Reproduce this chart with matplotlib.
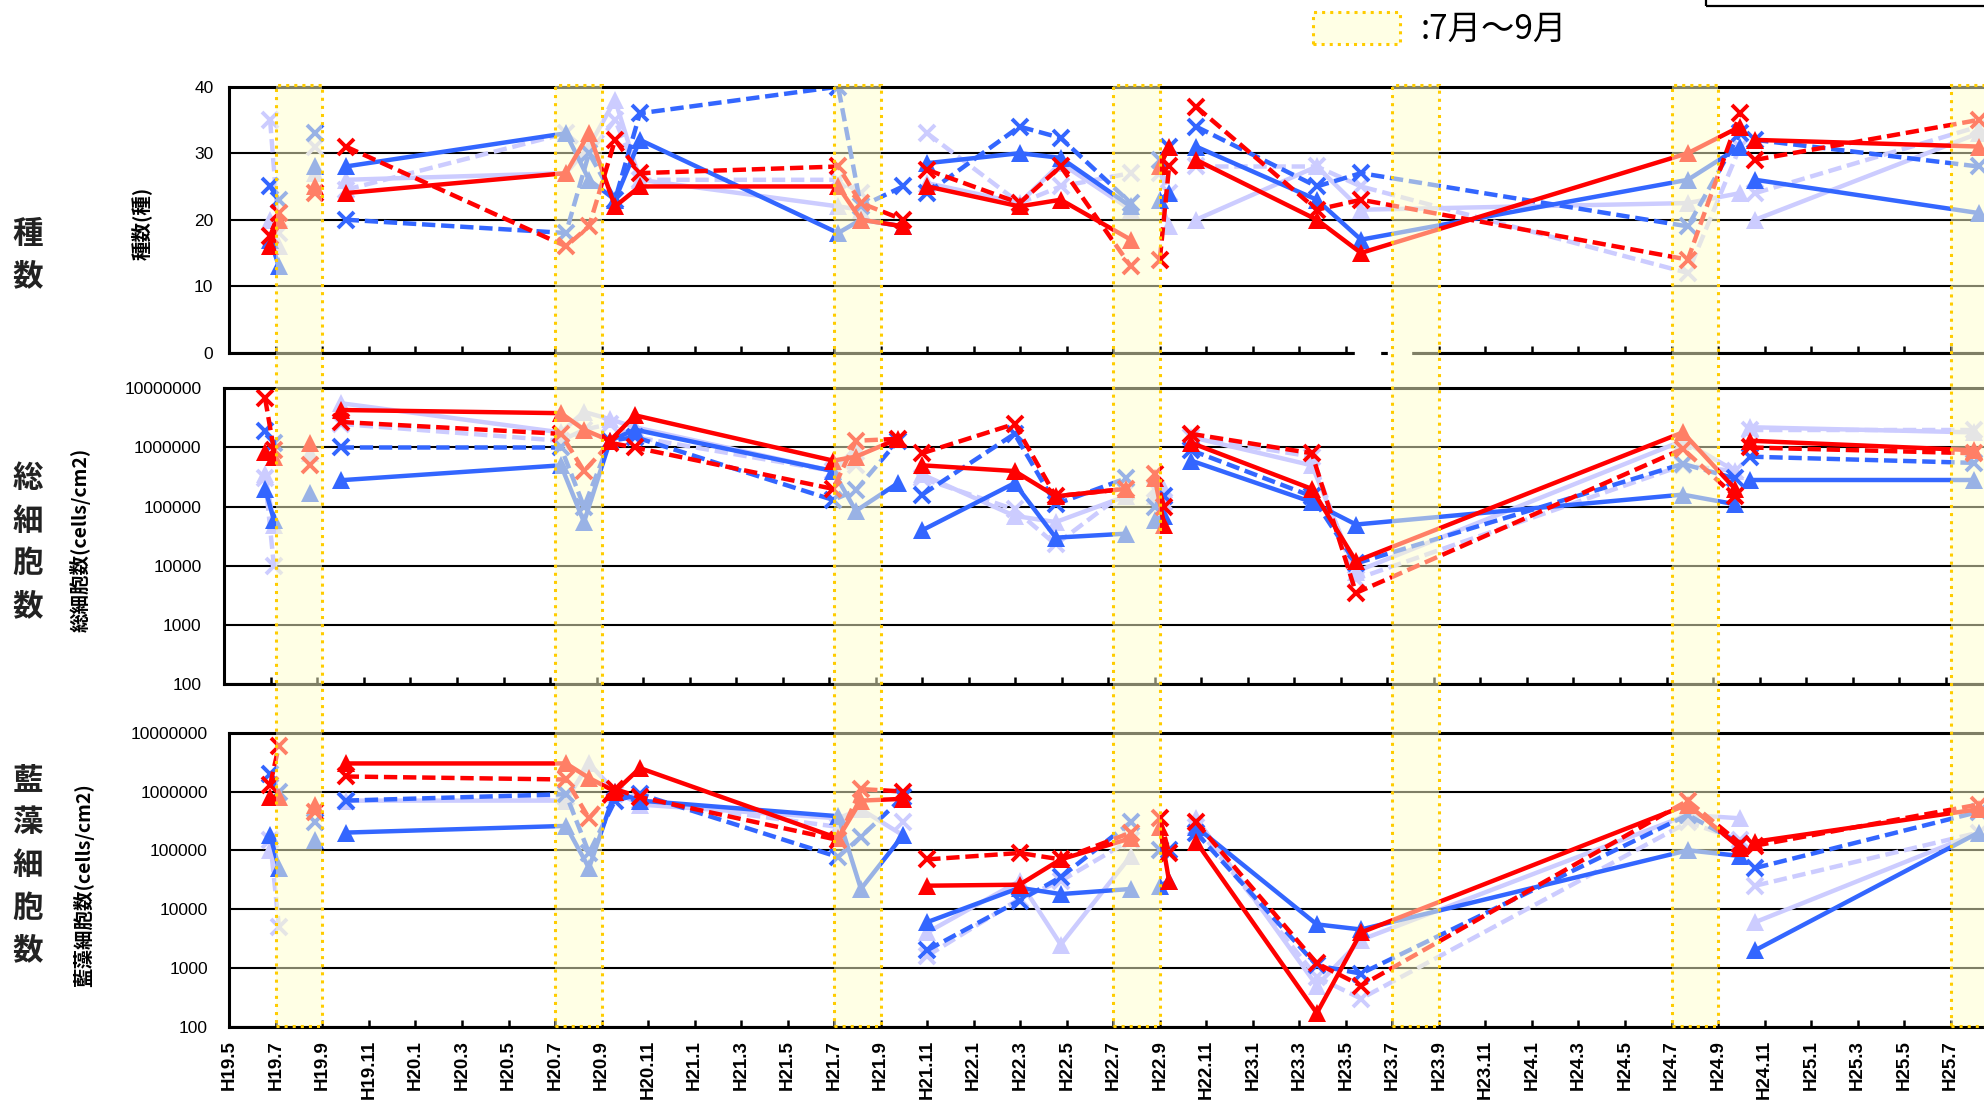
import numpy as np
import matplotlib
matplotlib.use("Agg")
import matplotlib.pyplot as plt
from matplotlib.patches import Rectangle

n = np.nan

# sampling dates, in months counted from H19.5
dates = [1.75, 2.13, 3.7, 5.0, 14.47, 15.46, 16.58, 17.65, 26.17, 27.15, 28.96, 30.0,
         33.97, 35.74, 38.75, 40.0, 40.4, 41.56, 46.75, 48.65, 62.7, 64.95, 65.6, 75.2]
# a new line segment starts at these points (no line drawn from the previous date)
seg_starts = [2, 3, 11, 15, 17, 22]

# 種数
top_red_s = [16, 20, 25, 24, 27, 33, 22, 25, 25, 20, 19, 25, 22, 23, 17, 28, 31, 29, 20, 15, 30, 34, 32, 31]
top_red_d = [17.5, 21, 24, 31, 16, 19, 32, 27, 28, 22.5, 20, 27.5, 22.5, 28, 13, 14, 28, 37, 21.5, 23, 14, 36, 29, 35]
top_blue_s = [17, 13, 28, 28, 33, 26, 23, 32, 18, 20, 19, 28.5, 30, 29.3, 22, 23, 24, 31, 23, 17, 26, 31, 26, 21]
top_blue_d = [25, 23, 33, 20, 18, 30, 23, 36, 40, 22, 25, 24, 34, 32.3, 22.5, 29, 31, 34, 25, 27, 19, 33, 32, 28]
top_lav_s = [20, 16, 27, 26, 27, 31, 38, 26, 22, 21.5, n, 25.5, 22.5, 28.5, 21.5, 23, 19, 20, 28, 21.5, 22.5, 24, 20, 33]
top_lav_d = [35, 18, 31, 24.5, 33, 30, 35, 26, 26, 24, n, 33, 22.5, 25, 27, 27, 24, 28, 28, 25, 12, 31, 24, 34]

# 総細胞数
mid_red_s = [8.5e5, 7e5, 1.2e6, 4.3e6, 3.8e6, 2e6, 1.3e6, 3.5e6, 6e5, 7e5, 1.4e6, 5e5, 4e5, 1.5e5,
             2e5, 3e5, 5e4, 1.2e6, 2e5, 1.2e4, 1.8e6, 2e5, 1.3e6, 9e5]
mid_red_d = [6.8e6, 9e5, 5e5, 2.7e6, 1.7e6, 4e5, 1.2e6, 1e6, 2e5, 1.3e6, 1.4e6, 8e5, 2.5e6, 1.5e5,
             2e5, 3.5e5, 1e5, 1.7e6, 8e5, 3.5e3, 9.5e5, 1.5e5, 1e6, 8e5]
mid_blue_s = [2e5, 6e4, 1.7e5, 2.8e5, 5e5, 5.5e4, 1.3e6, 2e6, 4e5, 8.5e4, 2.5e5, 4e4, 2.5e5, 3e4,
              3.5e4, 6e4, 7e4, 6e5, 1.2e5, 5e4, 1.6e5, 1.1e5, 2.8e5, 2.8e5]
mid_blue_d = [1.9e6, 1.2e6, n, 1e6, 1e6, 1e5, 1.3e6, 1.5e6, 1.3e5, 1.9e5, 1.3e6, 1.6e5, 1.7e6, 1.1e5,
              3e5, 1e5, 1.5e5, 9e5, 1.5e5, 1.1e4, 5.3e5, 3e5, 7e5, 5.5e5]
mid_lav_s = [3.5e5, 5e4, 8e5, 5.6e6, 1.8e6, 4e6, 3e6, 2.2e6, 4e5, 1e6, n, 3.5e5, 7e4, 5.5e4,
             1.5e5, 1.5e5, 2e5, 1.5e6, 5e5, 8e3, 1.3e6, 4e5, 2.2e6, 1.8e6]
mid_lav_d = [3e5, 1e4, n, 2.5e6, 1.3e6, 2e6, 2.5e6, 1.5e6, 4e5, 5e5, n, 3e5, 9e4, 2.3e4,
             1.8e5, 2e5, 1.2e5, 1.5e6, 7e5, 6e3, 5e5, 4e5, 2e6, 2e6]

# 藍藻細胞数
bot_red_s = [8e5, 8e5, 6e5, 3e6, 3e6, 1.7e6, 1e6, 2.5e6, 1.6e5, 7e5, 7.5e5, 2.5e4, 2.6e4, 7e4,
             1.6e5, 2.5e5, 3e4, 1.4e5, 170, 4e3, 6e5, 1.1e5, 1.4e5, 5e5]
bot_red_d = [1.3e6, 6e6, 4.5e5, 1.8e6, 1.6e6, 3.5e5, 1.1e6, 8e5, 1.5e5, 1.1e6, 1e6, 7e4, 9e4, 7e4,
             2e5, 3.5e5, 9e4, 3e5, 1.2e3, 500, 7e5, 1.3e5, 1.2e5, 6e5]
bot_blue_s = [1.8e5, 5e4, 1.5e5, 2e5, 2.6e5, 5e4, 1e6, 7e5, 3.8e5, 2.2e4, 1.8e5, 6e3, 2.3e4, 1.8e4,
              2.2e4, 2.5e4, 3e4, 2.5e5, 5.5e3, 4.5e3, 1e5, 8e4, 2e3, 2e5]
bot_blue_d = [2e6, 1e6, 3e5, 7e5, 9e5, 9e4, 7e5, 9e5, 7.7e4, 1.7e5, 8e5, 2e3, 1.4e4, 3.5e4,
              3e5, 1e5, 1e5, 2e5, 1.1e3, 800, 4e5, 1.3e5, 5e4, 4.5e5]
bot_lav_s = [1e5, 5e4, n, 7e5, 7e5, 3e6, 1e6, 6e5, 3.5e5, 5e5, 1.8e5, 4e3, 3e4, 2.5e3,
             8e4, n, n, 3.5e5, 500, 3e3, 4e5, 3.5e5, 6e3, 2e5]
bot_lav_d = [1.5e5, 5e3, n, 7e5, 8e5, n, 9e5, 7e5, 2.5e5, n, 3e5, 1.6e3, 1.5e4, 3e4,
             1.5e5, n, n, 2.5e5, 700, 300, 3e5, 1.5e5, 2.5e4, 2e5]

# tick labels every 2 months from H19.5 to H25.7
tick_pos = list(range(0, 75, 2))
tick_lab = ["H%d.%d" % (19 + (4 + m) // 12, (4 + m) % 12 + 1) for m in tick_pos]

RED, BLUE, LAV = "#FF0000", "#3366FF", "#CCCCFF"
CJK = ["Noto Sans CJK JP", "DejaVu Sans"]
plt.rcParams["font.family"] = ["Liberation Sans", "Noto Sans CJK JP", "DejaVu Sans"]

W, H = 1984, 1100
fig = plt.figure(figsize=(W / 100, H / 100), dpi=100)


def fbox(l, t, r, b):
    return [l / W, 1 - b / H, (r - l) / W, (b - t) / H]


PPM = 23.26   # pixels per month
XMAX = 80


def draw(ax, vals, color, solid):
    x = np.array(dates)
    y = np.array(vals, float)
    bnd = [0] + seg_starts + [len(x)]
    for a, b in zip(bnd[:-1], bnd[1:]):
        if solid:
            ax.plot(x[a:b], y[a:b], color=color, lw=3.2, marker="^", ms=12.5, mew=0,
                    solid_capstyle="butt")
        else:
            ax.plot(x[a:b], y[a:b], color=color, lw=3.2, ls=(0, (3, 1.3)), marker="x",
                    ms=11, mew=2.8)


def style(ax, ylab_pad, show_xlabels):
    ax.set_xlim(0, XMAX)
    ax.set_xticks(tick_pos)
    if show_xlabels:
        ax.set_xticklabels(tick_lab, rotation=90, fontsize=13.5, fontweight="bold")
    else:
        ax.set_xticklabels([])
    ax.tick_params(axis="x", direction="in", length=5, width=1.8, pad=9.5)
    ax.tick_params(axis="y", length=0, pad=ylab_pad, labelsize=12.5)
    ax.yaxis.grid(True, color="black", lw=1.5)
    ax.set_axisbelow(True)
    for s in ["left", "bottom", "top"]:
        ax.spines[s].set_linewidth(2.2)
    ax.spines["right"].set_visible(False)


panels = [
    (fbox(229.4, 86.7, 229.4 + XMAX * PPM, 352.7),
     [top_lav_s, top_lav_d, top_blue_s, top_blue_d, top_red_s, top_red_d], False, 11.5),
    (fbox(224.4, 388.3, 224.4 + XMAX * PPM, 684.3),
     [mid_lav_s, mid_lav_d, mid_blue_s, mid_blue_d, mid_red_s, mid_red_d], True, 16.5),
    (fbox(229.4, 732.7, 229.4 + XMAX * PPM, 1026.7),
     [bot_lav_s, bot_lav_d, bot_blue_s, bot_blue_d, bot_red_s, bot_red_d], True, 15.5),
]
colors = [LAV, LAV, BLUE, BLUE, RED, RED]
solids = [True, False, True, False, True, False]

for i, (box, series, logy, pad) in enumerate(panels):
    ax = fig.add_axes(box)
    for vals, c, s in zip(series, colors, solids):
        draw(ax, vals, c, s)
    if logy:
        ax.set_yscale("log")
        ax.set_ylim(100, 1e7)
        yt = [100, 1000, 10000, 100000, 1000000, 10000000]
        ax.set_yticks(yt)
        ax.set_yticklabels([str(v) for v in yt])
        ax.yaxis.set_minor_locator(matplotlib.ticker.NullLocator())
    else:
        ax.set_ylim(0, 40)
        ax.set_yticks([0, 10, 20, 30, 40])
    style(ax, pad, i == 2)

# gap in the lower edge of the top panel
for l, r in [(1355, 1380), (1388, 1411)]:
    fig.add_artist(Rectangle((l / W, 1 - 357 / H), (r - l) / W, 9 / H, color="white",
                             transform=fig.transFigure, zorder=5))

# July-September bands over all three panels
band_ax = fig.add_axes(fbox(229.4, 84.5, 229.4 + XMAX * PPM, 1025.5), zorder=10)
band_ax.set_xlim(0, XMAX)
band_ax.set_ylim(0, 1)
band_ax.axis("off")
band_ax.patch.set_alpha(0)
for k in range(7):
    a = 2 + 12 * k
    band_ax.add_patch(Rectangle((a, 0), 2, 1, facecolor=(1, 1, 0.8), alpha=0.5, lw=0))
    band_ax.add_patch(Rectangle((a, 0), 2, 1, fill=False, edgecolor="#FFCC00", lw=2.2,
                                ls=":", clip_on=False))

# legend for the bands
fig.add_artist(Rectangle((1313 / W, 1 - 44.3 / H), 87 / W, 32.6 / H, facecolor=(1, 1, 0.8),
                         alpha=0.5, lw=0, transform=fig.transFigure))
fig.add_artist(Rectangle((1313 / W, 1 - 44.3 / H), 87 / W, 32.6 / H, fill=False,
                         edgecolor="#FFCC00", lw=2.2, ls=":", transform=fig.transFigure))
fig.text(1421 / W, 1 - 29 / H, ":7月～9月", fontsize=24, family=CJK, va="center", ha="left")

# partly visible box at the top right
fig.add_artist(Rectangle((1706 / W, 1 - 6 / H), 1, 1, fill=False, edgecolor="black", lw=1.6,
                         transform=fig.transFigure, clip_on=False))

# axis titles
fig.text(141 / W, 1 - 223 / H, "種数(種)", rotation=90, fontsize=14, fontweight="bold",
         family=CJK, ha="center", va="center")
fig.text(80 / W, 1 - 540 / H, "総細胞数(cells/cm2)", rotation=90, fontsize=14,
         fontweight="bold", family=CJK, ha="center", va="center")
fig.text(84 / W, 1 - 885 / H, "藍藻細胞数(cells/cm2)", rotation=90, fontsize=14,
         fontweight="bold", family=CJK, ha="center", va="center")

# big row labels
for txt, yc in [("種\n数", 255), ("総\n細\n胞\n数", 542), ("藍\n藻\n細\n胞\n数", 865)]:
    fig.text(28 / W, 1 - yc / H, txt, fontsize=22, fontweight="bold", family=CJK,
             color="#222222", ha="center", va="center", linespacing=1.42)

fig.savefig("out.png", dpi=100)
